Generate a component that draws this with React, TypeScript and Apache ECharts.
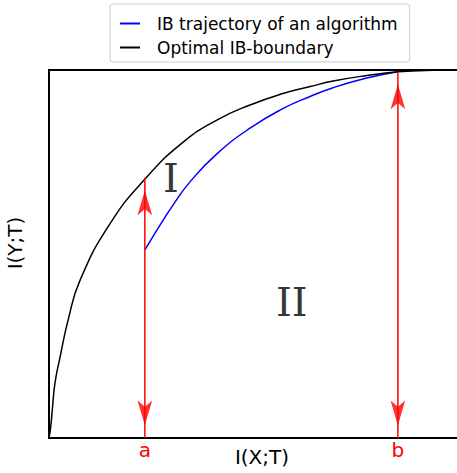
import React, { useEffect, useRef } from "react";
import * as echarts from "echarts";

// Optimal IB-boundary (black) : x = I(X;T), y = I(Y;T), normalised 0..1
const boundaryX = [0, 0.004, 0.008, 0.014, 0.026, 0.045, 0.073, 0.143, 0.228, 0.315, 0.394, 0.472, 0.549, 0.613, 0.667, 0.746, 0.819, 0.901, 1.0];
const boundaryY = [0, 0.03, 0.08, 0.149, 0.22, 0.321, 0.429, 0.582, 0.707, 0.804, 0.864, 0.905, 0.936, 0.955, 0.97, 0.985, 0.995, 0.999, 1.0];

// IB trajectory of an algorithm (blue)
const trajX = [0.225, 0.261, 0.291, 0.331, 0.394, 0.472, 0.549, 0.613, 0.667, 0.746, 0.819];
const trajY = [0.511, 0.579, 0.633, 0.696, 0.772, 0.842, 0.895, 0.928, 0.952, 0.978, 0.995];

// Arrow markers a and b
const markerNames = ["a", "b"];
const markerX = [0.225, 0.819];
const markerTop = [0.707, 0.995];

// Region labels
const regionNames = ["I", "II"];
const regionX = [0.286, 0.57];
const regionY = [0.707, 0.37];

const seriesNames = ["IB trajectory of an algorithm", "Optimal IB-boundary"];

export default function App() {
  const ref = useRef<HTMLDivElement>(null);
  useEffect(() => {
    if (!ref.current) return;
    const chart = echarts.init(ref.current, null, { renderer: "svg" });
    const sans = "DejaVu Sans";
    const arrowSeries: any[] = [];
    markerX.forEach((x, i) => {
      arrowSeries.push({
        type: "line",
        silent: true,
        showSymbol: false,
        symbol: "none",
        lineStyle: { color: "#ff0000", width: 1.5 },
        data: [[x, 0], [x, markerTop[i]]],
        z: 3,
      });
      arrowSeries.push({
        type: "scatter",
        silent: true,
        symbol: "arrow",
        symbolSize: [11, 25],
        symbolOffset: [0, 12.5],
        itemStyle: { color: "#ff0000" },
        data: [[x, markerTop[i]]],
        z: 4,
      });
      arrowSeries.push({
        type: "scatter",
        silent: true,
        symbol: "arrow",
        symbolSize: [11, 25],
        symbolRotate: 180,
        symbolOffset: [0, -12.5],
        itemStyle: { color: "#ff0000" },
        data: [[x, 0]],
        z: 4,
      });
    });
    chart.setOption({
      animation: false,
      grid: {
        left: 49,
        top: 70,
        bottom: 35,
        right: -18,
        outerBoundsMode: "none",
        containLabel: false,
        show: true,
        borderColor: "#000",
        borderWidth: 2,
        backgroundColor: "transparent",
      },
      legend: {
        data: seriesNames,
        orient: "vertical",
        left: 110,
        top: 4,
        padding: [11, 12, 6, 10],
        itemGap: 7,
        itemWidth: 20,
        itemHeight: 2,
        icon: "rect",
        borderColor: "#cccccc",
        borderWidth: 1,
        borderRadius: 3,
        textStyle: { fontFamily: sans, fontSize: 17, color: "#000", padding: [0, 0, 0, 12] },
      },
      xAxis: {
        type: "value",
        min: 0,
        max: 1,
        name: "I(X;T)",
        nameLocation: "middle",
        nameGap: 9,
        nameMoveOverlap: false,
        nameTextStyle: { fontFamily: sans, fontSize: 20, color: "#000", verticalAlign: "top" },
        splitLine: { show: false },
        axisLine: { show: false },
        axisTick: { show: false },
        axisLabel: {
          customValues: markerX,
          formatter: (v: number) => {
            const i = markerX.findIndex((m) => Math.abs(m - v) < 1e-6);
            return i >= 0 ? markerNames[i] : "";
          },
          color: "#ff0000",
          fontFamily: sans,
          fontSize: 20,
          margin: 2,
        },
      },
      yAxis: {
        type: "value",
        min: 0,
        max: 1,
        splitLine: { show: false },
        axisLine: { show: false },
        axisTick: { show: false },
        axisLabel: { show: false },
      },
      graphic: [
        {
          type: "text",
          x: 15,
          y: 243,
          rotation: Math.PI / 2,
          style: {
            text: "I(Y;T)",
            fontFamily: sans,
            fontSize: 20,
            fill: "#000",
            align: "center",
            verticalAlign: "middle",
          },
        },
      ],
      series: [
        {
          name: seriesNames[0],
          type: "line",
          smooth: true,
          showSymbol: false,
          symbol: "none",
          color: "#0000ff",
          lineStyle: { color: "#0000ff", width: 1.5 },
          data: trajX.map((x, i) => [x, trajY[i]]),
          z: 2,
        },
        {
          name: seriesNames[1],
          type: "line",
          smooth: true,
          showSymbol: false,
          symbol: "none",
          color: "#000000",
          lineStyle: { color: "#000000", width: 1.5 },
          data: boundaryX.map((x, i) => [x, boundaryY[i]]),
          z: 2,
        },
        {
          type: "scatter",
          silent: true,
          symbolSize: 0,
          itemStyle: { color: "#000" },
          label: {
            show: true,
            position: "inside",
            formatter: (p: any) => regionNames[p.dataIndex],
            fontFamily: "DejaVu Serif",
            fontSize: 40,
            color: "#000",
            textBorderWidth: 0,
            textBorderColor: "transparent",
          },
          data: regionX.map((x, i) => [x, regionY[i]]),
          z: 5,
        },
        ...arrowSeries,
      ],
    });
    return () => chart.dispose();
  }, []);
  return <div ref={ref} style={{ position: "absolute", left: 0, top: 0, width: 457, height: 473 }} />;
}
